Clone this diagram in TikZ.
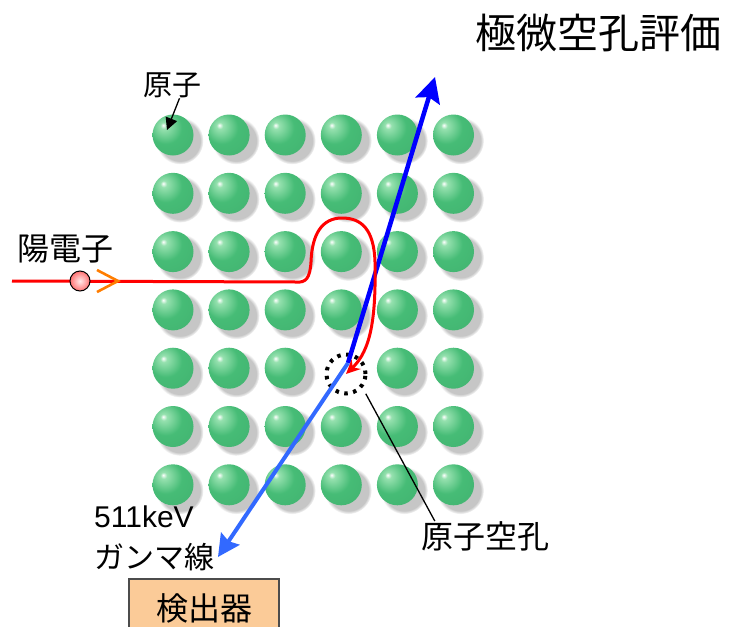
\documentclass[tikz,border=0pt]{standalone}
\usepackage{fontspec}
\setmainfont{Liberation Sans}
\newfontfamily\jpfont{Noto Sans CJK JP}
\usetikzlibrary{arrows.meta,shadows}

\definecolor{atomgreen}{RGB}{70,188,118}
\definecolor{atomlight}{RGB}{150,225,175}
\definecolor{atomdark}{RGB}{40,120,75}
\definecolor{gammadark}{RGB}{0,0,255}
\definecolor{gammalight}{RGB}{50,105,255}
\definecolor{chevorange}{RGB}{255,125,0}
\definecolor{detorange}{RGB}{251,203,152}

% glossy sphere, highlight at the upper left
\pgfdeclareradialshading{atomball}{\pgfpoint{-12bp}{12bp}}{%
	color(0bp)=(white);color(4bp)=(atomlight);color(20bp)=(atomgreen);
	color(46bp)=(atomgreen!85!atomdark);color(60bp)=(atomdark);color(80bp)=(atomdark)}

\tikzstyle{atom}=[circle,inner sep=0pt,minimum size=41pt,shade,shading=atomball,
	circular drop shadow={shadow xshift=6pt,shadow yshift=-5pt,shadow scale=1.15,opacity=.45}]
\tikzstyle{lbl}=[inner sep=0pt,text=black]

\begin{document}
\begin{tikzpicture}[x=1pt,y=-1pt]
	\tikzstyle{track}=[draw=red,line width=3pt,-{Stealth[length=14pt,width=13pt]}]
	\tikzstyle{gamma}=[line width=4.5pt]
	\tikzstyle{pointer}=[black,line width=1.3pt]
	\useasboundingbox (0,0) rectangle (729,627);

	% crystal lattice, one site left empty
	\foreach \c in {1,...,6}
		\foreach \r in {1,...,7}{
			\ifnum\c\r=45 \else
				\node[atom] (a\c\r) at ({173+56.1*(\c-1)},{135+58.3*(\r-1)}) {};
			\fi
		}
	\node[circle,draw=black,line width=4pt,dash pattern=on 3.5pt off 5.5pt,
		minimum size=39pt,inner sep=0pt] (vac) at (346,374) {};

	% gamma rays from the annihilation point
	\coordinate (emit) at (348,363);
	\coordinate (gup) at (435,77);
	\coordinate (gdown) at (218,557);
	\draw[gamma,gammadark,-{Stealth[length=25pt,width=25pt,inset=4pt]}] (emit) -- (gup);
	\draw[gamma,gammalight,line width=4pt,-{Stealth[length=22pt,width=22pt,inset=3pt]}] (emit) -- (gdown);

	% positron track
	\coordinate (pstart) at (12,281);
	\draw[track] (pstart) -- (296,282) .. controls (306,283) and (310,278) .. (311,262)
		.. controls (312,234) and (322,218) .. (342,218)
		.. controls (362,218) and (374,230) .. (375,262)
		.. controls (376,318) and (371,350) .. (vac.center);
	\node[circle,draw=black,line width=1pt,minimum size=20pt,inner sep=0pt,
		inner color=red!8,outer color=red!55] (pos) at (80,281) {};
	\draw[chevorange,line width=2.6pt] (pos.center) ++(17,-11) -- ++(21,11) -- ++(-21,11);

	% labels
	\node[lbl,font=\jpfont\fontsize{41}{48}\selectfont] (title) at (598,33) {極微空孔評価};
	\node[lbl,font=\jpfont\fontsize{29}{34}\selectfont] (atomlbl) at (172.5,85.5) {原子};
	\node[lbl,font=\jpfont\fontsize{32}{38}\selectfont] (poslbl) at (65,249) {陽電子};
	\node[lbl,font=\fontsize{30}{36}\selectfont,anchor=base west] (kev) at (94,527) {511keV};
	\node[lbl,font=\jpfont\fontsize{30}{36}\selectfont,anchor=west] (gamlbl) at (94,557) {ガンマ線};
	\node[lbl,font=\jpfont\fontsize{32}{38}\selectfont] (vaclbl) at (485,536) {原子空孔};
	\node[draw=black!70,line width=1.5pt,fill=detorange,minimum width=150pt,minimum height=58pt,
		inner sep=0pt,font=\jpfont\fontsize{32}{38}\selectfont] (det) at (204,608) {検出器};

	\draw[pointer,-{Triangle[length=12pt,width=12pt]}] ([xshift=7pt]atomlbl.south)
		-- ([xshift=-6pt,yshift=5pt]a11.center);
	\draw[pointer] ([shift={(-45:28pt)}]vac.center) -- ([xshift=14pt]vaclbl.north west);
\end{tikzpicture}
\end{document}
